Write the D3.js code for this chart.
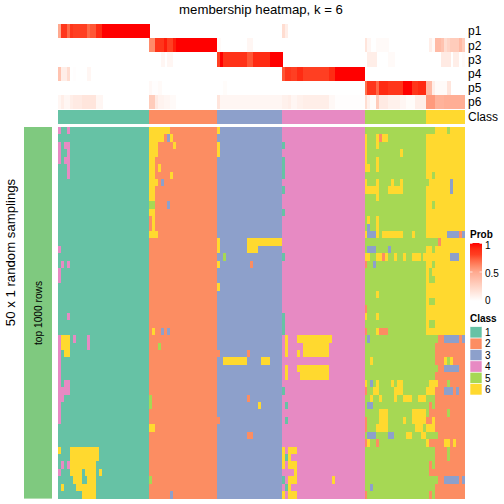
<!DOCTYPE html>
<html><head><meta charset="utf-8">
<script src="https://cdn.jsdelivr.net/npm/d3@7"></script>
<style>html,body{margin:0;padding:0;background:#fff}svg{display:block}text{font-family:"Liberation Sans",Arial,sans-serif;fill:#000}</style>
</head><body><svg id="c" width="504" height="504"></svg>
<script>
const classColors = ["#66C2A5","#FC8D62","#8DA0CB","#E78AC3","#A6D854","#FFD92F"];
const classLabels = ["1","2","3","4","5","6"];
const nRows = 50, nCols = 138;
// column groups: [first column, last column, class]
const clusters = [[0,30,1],[31,53,2],[54,75,3],[76,103,4],[104,124,5],[125,137,6]];
const probNames = ["p1","p2","p3","p4","p5","p6"];
// probability runs: [first column, last column, value]
const p1 = [[0,0,.5],[1,2,.85],[3,3,.7],[4,4,.85],[5,9,.8],[10,10,.7],[11,12,.75],[13,14,.9],[15,30,1],[76,76,.2],[77,77,.1]];
const p2 = [[31,32,.6],[33,35,.85],[36,36,.95],[37,38,.8],[39,39,.95],[40,53,1],[54,54,.03],[64,65,.05],[104,104,.15],[105,105,.05],[108,111,.03],[126,126,.1],[127,127,.03],[128,129,.4],[130,130,.35],[131,131,.2],[132,132,.25],[133,135,.3],[136,136,.4],[137,137,.3]];
const p3 = [[35,35,.05],[37,38,.05],[54,54,.8],[55,55,1],[56,63,.87],[64,65,.75],[66,71,.9],[72,75,1],[105,107,.1],[112,113,.03],[130,132,.12],[134,135,.1],[137,137,.03]];
const p4 = [[0,0,.35],[1,2,.1],[3,3,.2],[5,5,.01],[10,10,.05],[76,76,.75],[77,78,.85],[79,80,.8],[81,82,.9],[83,91,.8],[92,93,.9],[94,103,1]];
const p5 = [[31,31,.04],[32,33,.01],[34,34,.03],[56,56,.02],[104,104,.68],[105,107,.85],[108,108,.7],[109,111,.9],[112,116,.85],[117,119,1],[120,121,.85],[122,124,.9],[125,126,.4],[127,127,.1],[128,131,.03],[132,132,.15]];
const p6 = [[0,0,.05],[1,1,.1],[2,3,.05],[4,4,.1],[5,7,.12],[8,12,.15],[13,14,.05],[31,32,.3],[33,33,.12],[34,35,.07],[36,37,.05],[38,39,.03],[54,54,.15],[55,75,.05],[76,77,.08],[78,78,.1],[79,80,.05],[81,82,.08],[83,91,.1],[92,93,.04],[94,103,.01],[104,104,.2],[105,105,.08],[106,107,.02],[108,108,.3],[109,111,.12],[112,115,.08],[116,117,.05],[118,120,.02],[121,124,.1],[125,127,.55],[128,130,.45],[131,137,.47]];
const probRows = [p1,p2,p3,p4,p5,p6];
// class patches: [first row, last row, first column, last column, class]
const patchesCluster1 = [[0,0,0,0,4],[0,0,3,3,4],[2,4,0,0,4],[2,2,2,3,4],[3,3,3,3,4],[4,4,2,3,4],[5,6,3,3,4],[16,16,0,0,4],[18,18,1,1,4],[18,18,3,3,4],[19,20,0,0,4],[25,25,3,3,4],[28,39,0,0,4],[28,29,1,3,6],[30,30,2,3,6],[28,28,5,5,4],[28,29,10,10,4],[34,34,2,3,4],[35,35,1,3,4],[36,36,1,1,4],[43,43,0,0,6],[43,44,4,13,6],[45,45,4,12,6],[45,45,1,1,4],[45,45,3,3,4],[46,46,0,0,4],[46,46,4,7,6],[46,46,9,12,6],[46,46,14,14,6],[47,47,5,7,6],[47,47,10,12,6],[48,48,1,1,6],[48,48,6,12,6],[49,49,8,12,6]];
const patchesCluster2 = [[0,0,31,37,6],[1,1,31,35,6],[1,1,37,37,3],[1,1,38,38,6],[2,2,31,33,6],[2,2,39,39,6],[3,3,31,33,6],[4,6,31,32,6],[5,5,34,34,6],[6,6,38,38,6],[7,7,31,33,6],[7,7,35,35,3],[8,9,31,32,6],[10,10,31,32,5],[10,10,37,37,3],[11,11,31,32,6],[12,13,32,32,6],[14,14,31,33,6],[27,27,32,32,6],[27,27,35,35,3],[27,27,37,37,3],[29,29,34,34,5],[36,37,31,31,5],[40,40,31,32,6],[47,47,31,31,5],[49,49,38,38,3]];
const patchesCluster3 = [[0,0,54,54,6],[2,3,54,54,6],[15,16,54,54,6],[18,18,54,54,6],[21,21,54,54,6],[17,17,56,56,5],[18,18,65,65,2],[15,15,64,75,6],[16,16,64,67,6],[30,30,54,54,2],[30,30,64,64,2],[31,31,56,63,6],[31,31,69,71,6],[36,36,64,64,2],[37,37,68,68,6],[39,39,54,54,2],[41,41,64,65,2]];
const patchesCluster4 = [[2,2,76,76,1],[4,6,76,76,1],[8,8,76,76,1],[11,11,76,76,1],[17,17,76,76,1],[25,27,76,76,1],[35,35,76,76,1],[37,37,77,77,1],[39,39,77,77,1],[28,30,77,77,6],[28,28,81,92,6],[29,30,83,91,6],[30,30,81,81,6],[32,33,77,77,6],[32,32,81,91,6],[33,33,82,91,6],[43,43,76,76,6],[43,43,78,80,6],[44,44,76,76,6],[44,44,77,77,1],[44,44,78,78,6],[45,45,76,76,6],[45,45,78,80,6],[46,46,80,80,6],[47,47,76,76,1],[47,47,78,80,6],[47,47,93,93,6],[48,48,77,77,1],[48,48,78,78,6],[49,49,76,76,6],[49,49,78,80,6]];
const patchesBaseTail = [[28,49,125,127,5],[28,49,128,137,2]];
const patchesCluster5 = [[0,0,125,127,5],[0,0,132,132,5],[1,5,104,104,6],[1,2,108,108,6],[1,1,109,109,2],[1,1,110,111,6],[3,3,116,116,6],[4,5,108,108,6],[5,5,105,105,6],[6,6,127,127,5],[7,7,104,104,6],[7,7,108,108,6],[7,7,113,113,6],[7,7,116,116,6],[7,7,125,125,5],[7,8,133,133,3],[8,8,104,108,6],[8,8,112,116,6],[9,9,108,108,6],[10,10,127,127,5],[12,12,105,105,6],[12,13,108,108,6],[13,13,105,105,3],[14,14,104,104,6],[14,14,105,107,3],[14,14,108,108,6],[14,14,110,116,6],[14,14,120,120,6],[14,14,132,135,3],[14,14,136,136,2],[14,14,137,137,3],[15,15,125,128,5],[15,15,129,129,2],[16,16,105,107,3],[16,16,112,112,3],[16,16,127,127,5],[17,17,104,105,6],[17,17,108,109,6],[17,17,110,110,2],[17,17,111,111,6],[17,17,114,114,6],[17,17,117,117,6],[17,17,120,122,6],[17,17,124,124,6],[17,17,133,135,3],[18,18,104,104,2],[18,18,107,107,3],[18,18,127,127,5],[19,19,126,126,5],[20,20,126,127,5],[22,22,108,108,6],[23,23,126,127,5],[24,24,104,104,2],[25,25,104,104,6],[25,25,108,108,6],[26,26,126,127,5],[27,27,104,104,2],[27,27,108,108,6],[27,27,109,111,2],[28,28,105,105,3],[28,28,128,128,5],[28,28,131,135,3],[28,28,137,137,3],[31,31,106,106,6],[31,31,131,131,6],[31,31,132,132,5],[31,31,133,133,6],[32,32,128,128,5],[32,32,131,135,3],[34,34,104,104,6],[34,34,106,106,3],[34,34,108,108,6],[34,34,113,113,6],[34,34,115,116,6],[34,34,126,128,6],[34,34,132,132,5],[35,35,104,104,2],[35,35,107,108,6],[35,35,114,116,6],[35,35,125,127,6],[35,35,131,133,3],[35,35,135,135,3],[36,36,106,106,6],[36,36,109,109,6],[36,36,114,114,6],[36,36,117,119,6],[36,36,122,124,6],[37,37,105,106,3],[37,37,126,126,2],[38,38,109,111,6],[38,38,120,124,6],[38,38,126,127,2],[38,38,132,132,5],[39,39,104,104,2],[39,39,109,111,6],[39,39,117,117,6],[39,39,120,124,6],[39,39,125,126,2],[39,39,127,127,6],[40,40,104,104,2],[40,40,108,111,6],[40,40,121,123,6],[40,40,125,127,6],[41,41,105,107,3],[41,41,112,113,3],[41,41,118,119,6],[41,41,123,124,6],[41,41,128,128,5],[42,42,104,104,2],[42,42,105,105,6],[42,42,108,108,2],[42,42,125,125,6],[42,42,126,127,2],[42,42,131,132,6],[42,42,134,134,6],[43,44,132,132,5],[45,45,126,126,2],[46,46,126,127,2],[47,47,128,128,5],[47,47,131,135,3],[47,47,137,137,3],[48,48,106,106,3],[49,49,104,104,2],[49,49,126,126,2]];
const patchGroups = [patchesBaseTail,patchesCluster1,patchesCluster2,patchesCluster3,patchesCluster4,patchesCluster5];
const legendProbTicks = [1,0.5,0];

const svg = d3.select("#c");
const colIdx = d3.range(nCols), rowIdx = d3.range(nRows);
const x = d3.scaleBand().domain(colIdx).range([58,464.76]);
const y = d3.scaleBand().domain(rowIdx).range([127,498.6]);
const yAnno = d3.scaleBand().domain(probNames).range([24,109]);
const probColor = d3.scaleLinear().domain([0,0.5,0.8,1]).range(["#FFFFFF","#FFA98F","#FF3F22","#FF0000"]).interpolate(d3.interpolateLab);
const classFill = d3.scaleOrdinal().domain([1,2,3,4,5,6]).range(classColors);

// probability annotation rows
probNames.forEach((name,i)=>{
  const cells = [];
  probRows[i].forEach(([a,b,v])=>{ for(let c=a;c<=b;c++) cells.push({c,v}); });
  svg.append("g").attr("shape-rendering","crispEdges").selectAll("rect").data(cells).join("rect")
    .attr("x",d=>x(d.c)).attr("width",x.bandwidth()+0.5).attr("y",yAnno(name)).attr("height",yAnno.bandwidth())
    .attr("fill",d=>probColor(d.v));
  svg.append("text").attr("x",468).attr("y",yAnno(name)+yAnno.bandwidth()/2+4.3).attr("font-size",12).text(name);
});
// class annotation bar
svg.append("g").attr("shape-rendering","crispEdges").selectAll("rect").data(clusters).join("rect")
  .attr("x",d=>x(d[0])).attr("width",d=>x(d[1])+x.bandwidth()-x(d[0])).attr("y",110).attr("height",14)
  .attr("fill",d=>classFill(d[2]));
svg.append("text").attr("x",468).attr("y",121.3).attr("font-size",12).text("Class");

// main matrix
const colBase = new Array(nCols);
clusters.forEach(([a,b,k])=>{ for(let c=a;c<=b;c++) colBase[c]=k; });
const matrix = rowIdx.map(()=>colBase.slice());
patchGroups.forEach(g=>g.forEach(([r0,r1,c0,c1,k])=>{
  for(let r=r0;r<=r1;r++) for(let c=c0;c<=c1;c++) matrix[r][c]=k;
}));
const flat = [];
matrix.forEach((row,r)=>row.forEach((k,c)=>flat.push({r,c,k})));
svg.append("g").attr("shape-rendering","crispEdges").selectAll("rect").data(flat).join("rect")
  .attr("x",d=>x(d.c)).attr("y",d=>y(d.r)).attr("width",x.bandwidth()+0.5).attr("height",y.bandwidth()+0.5)
  .attr("fill",d=>classFill(d.k));

// left bar and texts
svg.append("rect").attr("x",24).attr("y",127).attr("width",28).attr("height",371.6).attr("fill","#7FC97F");
svg.append("text").attr("transform","translate(41.5,313) rotate(-90)").attr("text-anchor","middle").attr("font-size",10.2).text("top 1000 rows");
svg.append("text").attr("transform","translate(15,252.5) rotate(-90)").attr("text-anchor","middle").attr("font-size",13.2).text("50 x 1 random samplings");
svg.append("text").attr("x",261).attr("y",13.5).attr("text-anchor","middle").attr("font-size",13.2).text("membership heatmap, k = 6");

// Prob legend
const defs = svg.append("defs");
const grad = defs.append("linearGradient").attr("id","pg").attr("x1",0).attr("x2",0).attr("y1",1).attr("y2",0);
d3.range(0,1.001,0.1).forEach(t=>grad.append("stop").attr("offset",t).attr("stop-color",probColor(t)));
const yLeg = d3.scaleLinear().domain([0,1]).range([301,243]);
svg.append("text").attr("x",470).attr("y",237.5).attr("font-size",10).attr("font-weight","bold").text("Prob");
svg.append("rect").attr("x",470).attr("y",243).attr("width",12).attr("height",58).attr("fill","url(#pg)");
legendProbTicks.forEach(t=>{
  svg.append("line").attr("x1",470).attr("x2",472.5).attr("y1",yLeg(t)+(t==1?.5:0)).attr("y2",yLeg(t)+(t==1?.5:0)).attr("stroke","#fff").attr("stroke-width",.7);
  svg.append("line").attr("x1",479.5).attr("x2",482).attr("y1",yLeg(t)+(t==1?.5:0)).attr("y2",yLeg(t)+(t==1?.5:0)).attr("stroke","#fff").attr("stroke-width",.7);
  svg.append("text").attr("x",485).attr("y",t==1?249:(t==0?304:276.5)).attr("font-size",10).text(t);
});
// Class legend
const yCls = d3.scaleBand().domain(classLabels).range([326.7,395]);
svg.append("text").attr("x",470).attr("y",322).attr("font-size",10).attr("font-weight","bold").text("Class");
classLabels.forEach((l,i)=>{
  svg.append("rect").attr("x",470).attr("y",yCls(l)).attr("width",12).attr("height",yCls.bandwidth()).attr("fill",classColors[i]).attr("stroke","#fff").attr("stroke-width",.6);
  svg.append("text").attr("x",485).attr("y",yCls(l)+yCls.bandwidth()/2+3.6).attr("font-size",10).text(l);
});
</script></body></html>
